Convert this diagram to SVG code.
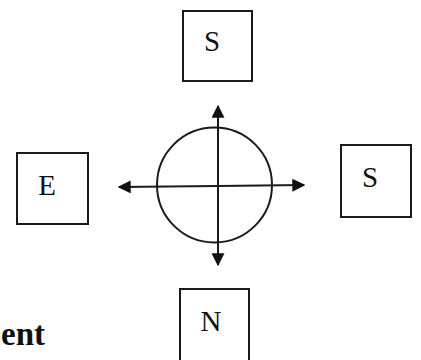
<svg xmlns="http://www.w3.org/2000/svg" width="421" height="360" viewBox="0 0 421 360">
<defs>
<style>
.box{fill:#fff;stroke:#1a1a1a;stroke-width:2}
.lbl{font-family:"Liberation Serif","Times New Roman",serif;font-size:29px;fill:#111;text-anchor:middle}
.ln{stroke:#1a1a1a;stroke-width:2;fill:none}
</style>
<marker id="ah" viewBox="0 0 10 10" refX="9" refY="5" markerWidth="13" markerHeight="13" markerUnits="userSpaceOnUse" orient="auto">
<path d="M0,0 L10,5 L0,10 Z" fill="#111"/>
</marker>
</defs>
<rect width="421" height="360" fill="#fff"/>
<g id="node-top-S"><rect class="box" x="183" y="11" width="69" height="70"/><text class="lbl" x="212" y="51">S</text></g>
<g id="node-E"><rect class="box" x="17" y="153" width="71" height="71"/><text class="lbl" x="47" y="195">E</text></g>
<g id="node-right-S"><rect class="box" x="341" y="145" width="70" height="72"/><text class="lbl" x="370" y="187">S</text></g>
<g id="node-N"><rect class="box" x="180" y="289" width="69" height="80"/><text class="lbl" x="211" y="331">N</text></g>
<g id="compass"><circle class="ln" cx="214.5" cy="185" r="57.5"/></g>
<g id="connectors">
<line class="ln" x1="218" y1="186" x2="218" y2="106" marker-end="url(#ah)"/>
<line class="ln" x1="218" y1="186" x2="218" y2="265" marker-end="url(#ah)"/>
<line class="ln" x1="218" y1="186" x2="119" y2="187" marker-end="url(#ah)"/>
<line class="ln" x1="218" y1="186" x2="304" y2="185" marker-end="url(#ah)"/>
</g>
<text x="1" y="345" font-family="'Liberation Serif','Times New Roman',serif" font-weight="bold" font-size="33" fill="#111">ent</text>
</svg>
